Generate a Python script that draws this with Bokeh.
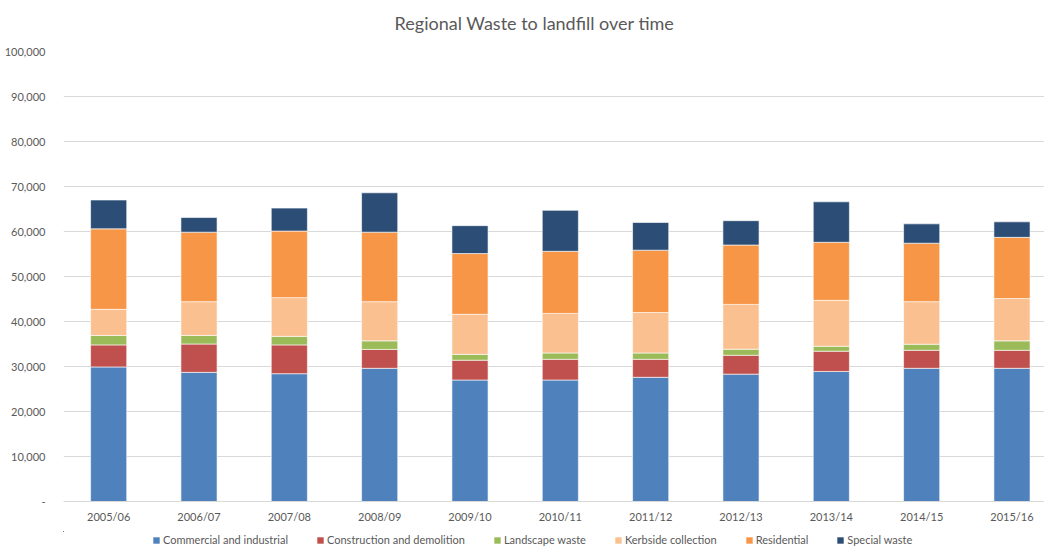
from bokeh.plotting import figure
from bokeh.layouts import column
from bokeh.models import (ColumnDataSource, Range1d, FixedTicker, NumeralTickFormatter,
                          Legend, LegendItem, Label)
from bokeh.embed import file_html
from bokeh.resources import INLINE

years = ["2005/06", "2006/07", "2007/08", "2008/09", "2009/10", "2010/11",
         "2011/12", "2012/13", "2013/14", "2014/15", "2015/16"]
commercial = [29900, 28700, 28400, 29600, 27000, 27000, 27600, 28300, 28900, 29600, 29600]
construction = [4900, 6300, 6400, 4200, 4400, 4600, 4000, 4200, 4500, 4000, 4000]
landscape = [2100, 1900, 1900, 1900, 1300, 1400, 1400, 1350, 1100, 1350, 2100]
kerbside = [5800, 7500, 8600, 8700, 8900, 8800, 9000, 9950, 10200, 9450, 9400]
residential = [17900, 15450, 14800, 15450, 13500, 13800, 13850, 13200, 12900, 13000, 13600]
special = [6400, 3250, 5100, 8750, 6200, 9100, 6150, 5400, 9000, 4300, 3450]

series_names = ["Commercial and industrial", "Construction and demolition", "Landscape waste",
                "Kerbside collection", "Residential", "Special waste"]
colors = ["#4F81BD", "#C0504D", "#9BBB59", "#FAC090", "#F79646", "#2C4D75"]
keys = ["c", "cd", "l", "k", "r", "s"]
title_text = "Regional Waste to landfill over time"

x = list(range(len(years)))
source = ColumnDataSource(dict(x=x, c=commercial, cd=construction, l=landscape,
                               k=kerbside, r=residential, s=special))

FONT = "Lato"
GREY = "#595959"

# --- title strip (frame aligned with the chart frame: x 63..1044) ---
p0 = figure(width=1044, height=43, output_backend="svg", toolbar_location=None,
            x_range=Range1d(63, 1044), y_range=Range1d(0, 43),
            x_axis_location=None, y_axis_location=None, min_border=0)
p0.outline_line_color = None
p0.grid.visible = False
p0.add_layout(Label(x=534, y=21, text=title_text, text_align="center", text_baseline="middle",
                    text_font=FONT, text_font_size="18px", text_color=GREY))

# --- main chart ---
p = figure(frame_width=981, frame_height=450, output_backend="svg", toolbar_location=None,
           x_range=Range1d(-0.5, 10.36), y_range=Range1d(0, 100000),
           min_border_left=63, min_border_right=0, min_border_top=8, min_border_bottom=30)
p.outline_line_color = None
p.background_fill_color = "white"

p.vbar_stack(keys, x="x", width=0.4, color=colors, source=source,
             line_color="white", line_alpha=0.6, line_width=1)

p.xgrid.grid_line_color = None
p.ygrid.grid_line_color = "#D9D9D9"
p.ygrid.ticker = FixedTicker(ticks=list(range(0, 100001, 10000)))

p.yaxis.ticker = FixedTicker(ticks=list(range(0, 100001, 10000)))
p.yaxis.formatter = NumeralTickFormatter(format="0,0")
p.yaxis.major_label_overrides = {0: "-"}
p.yaxis.axis_line_color = None
p.yaxis.major_tick_line_color = None
p.yaxis.minor_tick_line_color = None
p.yaxis.major_label_standoff = 12
p.yaxis.major_label_text_font = FONT
p.yaxis.major_label_text_font_size = "11px"
p.yaxis.major_label_text_color = GREY

p.xaxis.ticker = FixedTicker(ticks=x)
p.xaxis.major_label_overrides = {i: y for i, y in enumerate(years)}
p.xaxis.axis_line_color = "#D9D9D9"
p.xaxis.major_tick_line_color = None
p.xaxis.major_tick_out = 0
p.xaxis.minor_tick_out = 0
p.xaxis.minor_tick_line_color = None
p.xaxis.major_label_standoff = 8
p.xaxis.major_label_text_font = FONT
p.xaxis.major_label_text_font_size = "11px"
p.xaxis.major_label_text_color = GREY

# --- legend strip (its bars lie outside its view; only the legend shows) ---
p2 = figure(width=1044, height=17, output_backend="svg", toolbar_location=None,
            x_range=Range1d(100, 101), y_range=Range1d(-2, -1),
            x_axis_location=None, y_axis_location=None, min_border=0)
p2.outline_line_color = None
p2.grid.visible = False
leg_renderers = p2.vbar_stack(keys, x="x", width=0.4, color=colors, source=source, line_color=None)
legend = Legend(items=[LegendItem(label=n, renderers=[r]) for n, r in zip(series_names, leg_renderers)],
                orientation="horizontal", location=(89, 2),
                glyph_width=8, glyph_height=8, label_standoff=3, spacing=28,
                padding=0, margin=0, border_line_color=None, background_fill_alpha=0,
                label_text_font=FONT, label_text_font_size="11px", label_text_color=GREY,
                label_height=10)
p2.add_layout(legend, "center")

layout = column(p0, p, p2, spacing=0)
open("out.html", "w").write(file_html(layout, INLINE))
